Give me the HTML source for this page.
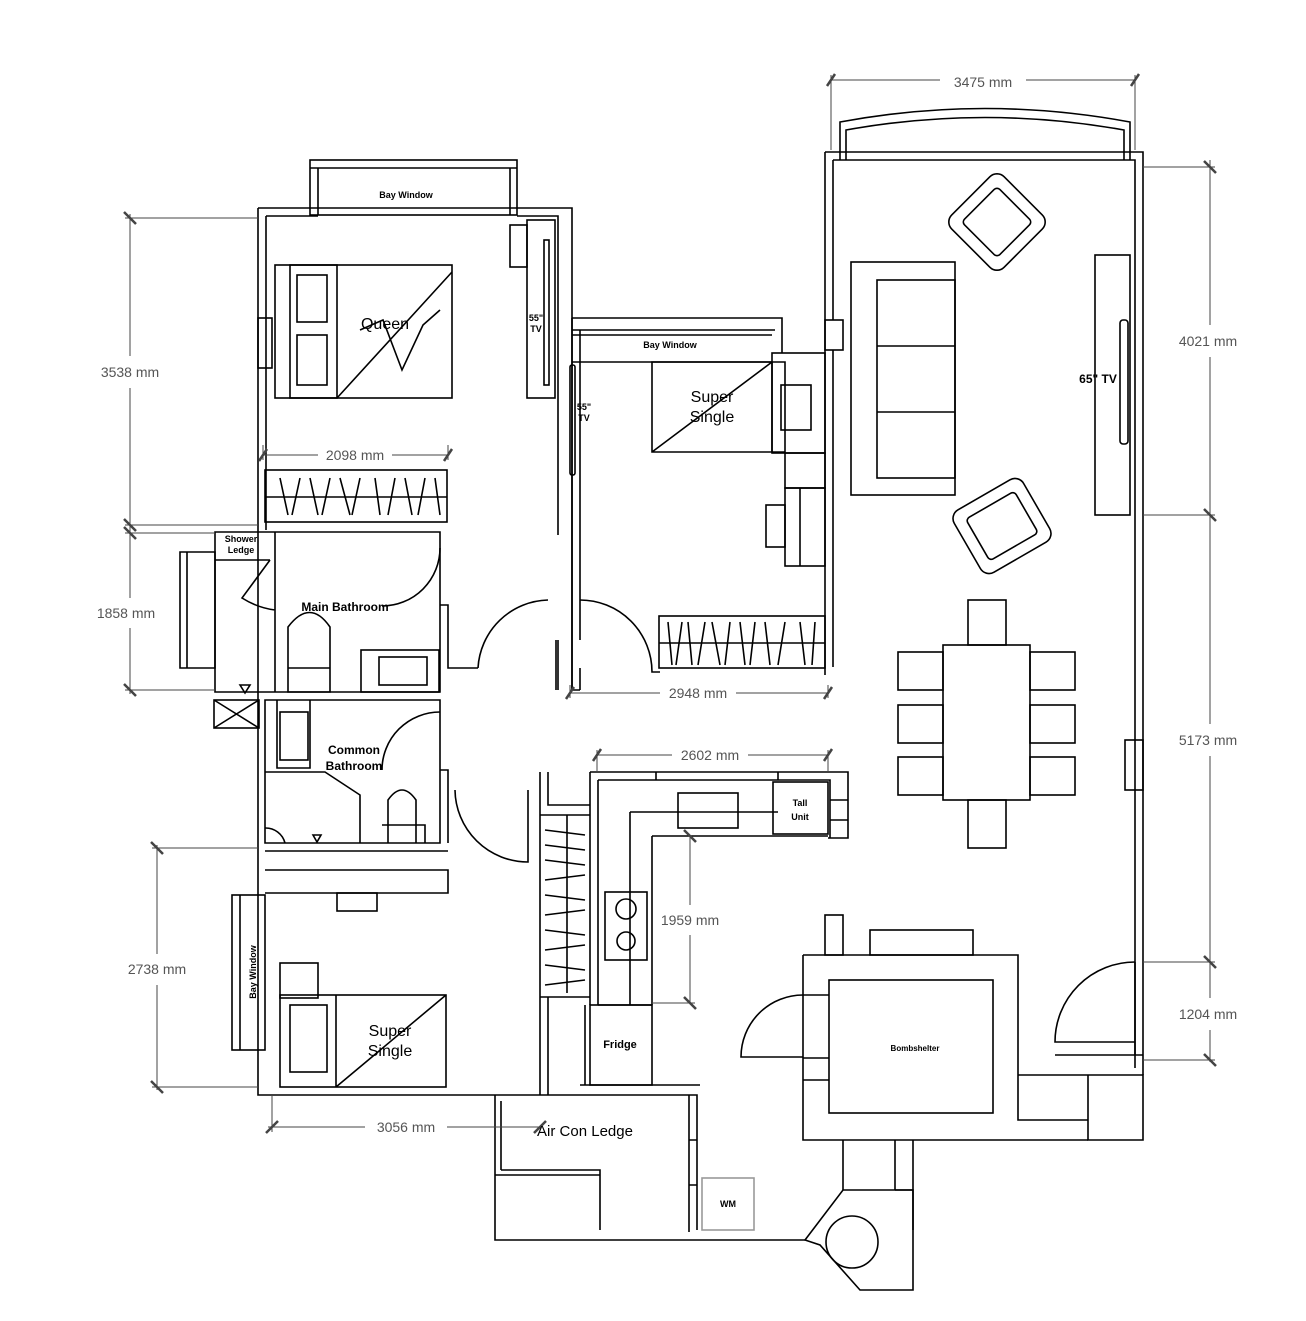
<!DOCTYPE html>
<html><head><meta charset="utf-8"><style>
html,body{margin:0;padding:0;background:#fff;width:1306px;height:1321px;overflow:hidden}
svg{display:block}
text{font-family:"Liberation Sans",sans-serif}
.d{font-size:14px;fill:#555}
.b{font-weight:bold;font-size:12px}
</style></head><body>
<svg width="1306" height="1321" viewBox="0 0 1306 1321" xmlns="http://www.w3.org/2000/svg">
<g fill="none" stroke="#000" stroke-width="1.6">
<!-- Living outer -->
<path d="M825 152 H1143 V1075 M833 160 H1135 V1068"/>
<path d="M825 152 V675 M833 160 V320 M833 350 V667"/>
<rect x="825" y="320" width="18" height="30"/>
<path d="M840 160 V122 Q985 95 1130 122 V160 M846 160 V130 Q985 105 1124 130 V160"/>
<!-- sofa & armchairs -->
<rect x="851" y="262" width="104" height="233"/>
<rect x="877" y="280" width="78" height="198"/>
<path d="M877 346 H955 M877 412 H955"/>
<rect x="960" y="185" width="74" height="74" rx="10" transform="rotate(45 997 222)"/>
<rect x="972" y="197" width="50" height="50" rx="4" transform="rotate(45 997 222)"/>
<rect x="962" y="490" width="80" height="72" rx="10" transform="rotate(-30 1002 526)"/>
<rect x="974" y="502" width="56" height="48" rx="4" transform="rotate(-30 1002 526)"/>
<!-- TV -->
<rect x="1095" y="255" width="35" height="260"/>
<rect x="1120" y="320" width="8" height="124" rx="3"/>
<!-- dining -->
<rect x="943" y="645" width="87" height="155"/>
<rect x="968" y="600" width="38" height="45"/><rect x="968" y="800" width="38" height="48"/>
<rect x="898" y="652" width="45" height="38"/><rect x="898" y="705" width="45" height="38"/><rect x="898" y="757" width="45" height="38"/>
<rect x="1030" y="652" width="45" height="38"/><rect x="1030" y="705" width="45" height="38"/><rect x="1030" y="757" width="45" height="38"/>
<!-- right lower wall -->
<rect x="1125" y="740" width="18" height="50"/>
<path d="M1135 962 V1055 M1055 1055 H1143"/>
<path d="M1135 962 A80 80 0 0 0 1055 1042 H1135"/>
<!-- Bombshelter -->
<path d="M803 955 H1018 V1075 H1143 V1140 H1088 V1075 M1018 1075 V1120 H1088"/>
<path d="M803 955 V1140 H1088"/>
<rect x="829" y="980" width="164" height="133"/>
<rect x="870" y="930" width="103" height="25"/>
<rect x="825" y="915" width="18" height="40"/>
<path d="M803 995 H829 M803 1058 H829 M803 1080 H829"/>
<path d="M803 995 A62 62 0 0 0 741 1057 H803"/>
<path d="M843 1140 V1190 M895 1140 V1190 M913 1140 V1230 M895 1190 H913"/>
<!-- bottom area -->
<path d="M495 1095 H697 V1230 M495 1095 V1240 H805 M501 1101 V1170 M501 1170 H600 V1230 M495 1175 H600"/>
<path d="M689 1095 V1232 M689 1140 H697 M689 1185 H697"/>
<rect x="702" y="1178" width="52" height="52" stroke="#999"/>
<path d="M805 1240 L843 1190 H913 V1290 H860 L820 1245 Z"/>
<circle cx="852" cy="1242" r="26"/>
<!-- kitchen -->
<path d="M590 772 H848 V838 H828 M598 780 H830 V838 M590 772 V1005 M598 780 V1005"/>
<path d="M656 772 V780 M778 772 V780 M830 800 H848 M830 820 H848"/>
<path d="M630 812 H778 M652 836 H828 M630 812 V1005 M652 836 V1005 M598 1005 H652"/>
<rect x="678" y="793" width="60" height="35"/>
<rect x="773" y="782" width="55" height="52"/>
<rect x="605" y="892" width="42" height="68"/>
<circle cx="626" cy="909" r="10"/><circle cx="626" cy="941" r="9"/>
<rect x="590" y="1005" width="62" height="80"/>
<path d="M585 1005 V1085 M580 1085 H700"/>
<!-- wardrobe kitchen-side -->
<path d="M540 772 V1095 M548 772 V805 H590 M540 815 H590 M540 997 H590 M548 997 V1095"/>
<path d="M545 830 L585 835 M545 845 L585 850 M545 860 L585 865 M545 880 L585 875 M545 895 L585 900 M545 915 L585 910 M545 930 L585 935 M545 950 L585 945 M545 965 L585 970 M545 985 L585 980 M567 815 V993"/>
<path d="M528 790 V862 A73 73 0 0 1 455 790"/>
<!-- left block -->
<path d="M258 208 H572 V690 M266 216 H318 M517 216 H558 V535 M558 640 V690"/>
<path d="M258 208 V1095 H495 M266 216 V530"/>
<rect x="310" y="160" width="207" height="55"/>
<path d="M310 168 H517 M318 168 V215 M510 168 V215"/>
<rect x="258" y="318" width="14" height="50"/>
<!-- master -->
<rect x="275" y="265" width="177" height="133"/>
<rect x="290" y="265" width="47" height="133"/>
<rect x="297" y="275" width="30" height="47"/><rect x="297" y="335" width="30" height="50"/>
<path d="M337 398 L452 272 M360 330 L383 320 L402 370 L423 325 L440 310"/>
<rect x="527" y="220" width="28" height="178"/>
<rect x="544" y="240" width="5" height="145"/>
<rect x="510" y="225" width="17" height="42"/>
<rect x="265" y="470" width="182" height="52"/>
<path d="M265 497 H447"/>
<path d="M280 478 L288 515 M300 478 L292 515 M310 478 L318 515 M330 478 L322 515 M340 478 L350 515 M360 478 L352 515 M375 478 L380 515 M395 478 L388 515 M405 478 L412 515 M425 478 L418 515 M435 478 L440 515"/>
<!-- bathrooms -->
<path d="M215 532 H440 V692 H215 Z M275 532 V692 M215 560 H270 M270 560 L242 598 Q258 608 275 610"/>
<path d="M180 552 H215 V668 H180 Z M187 552 V668"/>
<path d="M440 548 A58 58 0 0 1 382 606"/>
<path d="M440 605 H448 V668 H478"/>
<path d="M288 668 V627 Q310 598 330 627 V668 M288 668 H330 V692 H288 Z"/>
<rect x="361" y="650" width="78" height="42"/><rect x="379" y="657" width="48" height="28"/>
<path d="M240 685 L245 693 L250 685 Z"/>
<rect x="214" y="700" width="45" height="28"/><path d="M214 700 L259 728 M259 700 L214 728"/>
<path d="M265 700 H440 V843 H265 Z M277 700 V768 H310 V700 M265 772 H325 L360 795 V843"/>
<rect x="280" y="712" width="28" height="48"/>
<path d="M440 712 A58 58 0 0 0 382 770 M440 770 H448 V843"/>
<path d="M388 843 V800 Q402 780 416 800 V843 M382 825 H425 V843"/>
<path d="M265 828 A20 20 0 0 1 285 843"/>
<path d="M313 835 L317 842 L321 835 Z"/>
<path d="M265 851 H448 M265 870 H448 V893 H265"/>
<rect x="337" y="893" width="40" height="18"/>
<!-- bedroom 3 -->
<rect x="232" y="895" width="33" height="155"/><path d="M240 895 V1050"/>
<rect x="280" y="963" width="38" height="35"/>
<rect x="280" y="995" width="166" height="92"/>
<rect x="290" y="1005" width="37" height="67"/>
<path d="M336 995 V1087 M336 1087 L446 995"/>
<!-- bedroom 2 -->
<path d="M572 318 H782 V353 M572 330 H775 M572 362 H772 M572 335 H772"/>
<path d="M572 318 V690 M580 330 V640 M556 640 V690 M572 690 H580 M580 690 V668"/>
<rect x="570" y="365" width="5" height="110" rx="2"/>
<path d="M580 600 A72 72 0 0 1 652 672 H660 M548 600 A72 72 0 0 0 478 668"/>
<path d="M652 362 H785 V452 H652 Z M652 452 L772 362 M772 362 V452"/>
<rect x="772" y="353" width="53" height="100"/>
<rect x="781" y="385" width="30" height="45"/>
<rect x="785" y="453" width="40" height="35"/>
<rect x="785" y="488" width="40" height="78"/><path d="M800 488 V566"/>
<rect x="766" y="505" width="19" height="42"/>
<rect x="659" y="616" width="166" height="52"/>
<path d="M659 643 H825"/>
<path d="M668 622 L672 665 M682 622 L676 665 M688 622 L692 665 M705 622 L698 665 M712 622 L720 665 M730 622 L725 665 M740 622 L745 665 M755 622 L750 665 M765 622 L770 665 M785 622 L778 665 M800 622 L805 665 M815 622 L812 665"/>
</g>
<!-- dimensions -->
<g stroke="#444" stroke-width="1" fill="none">
<path d="M831 80 H940 M1026 80 H1135 M831 75 V150 M1135 75 V150"/>
<path d="M1143 167 H1215 M1143 515 H1215 M1143 962 H1215 M1143 1060 H1215"/>
<path d="M1210 160 V325 M1210 357 V724 M1210 756 V998 M1210 1030 V1062"/>
<path d="M125 218 H258 M125 525 H258 M125 533 H215 M125 690 H215 M130 214 V356 M130 388 V598 M130 628 V694"/>
<path d="M152 848 H258 M152 1087 H258 M157 845 V954 M157 985 V1090"/>
<path d="M268 1127 H365 M447 1127 H540 M272 1095 V1132"/>
<path d="M263 455 H318 M392 455 H448 M263 445 V460 M448 445 V460"/>
<path d="M570 693 H660 M736 693 H828 M570 685 V698 M828 685 V698"/>
<path d="M597 755 H672 M748 755 H828 M597 750 V772 M828 750 V772"/>
<path d="M690 836 V905 M690 935 V1003 M652 1003 H695"/>
</g>
<g stroke="#444" stroke-width="2.5">
<path d="M827 86 L835 74 M1131 86 L1139 74 M1204 161 L1216 173 M1204 509 L1216 521 M1204 956 L1216 968 M1204 1054 L1216 1066 M124 212 L136 224 M124 519 L136 531 M124 527 L136 539 M124 684 L136 696 M151 842 L163 854 M151 1081 L163 1093 M266 1133 L278 1121 M534 1133 L546 1121 M259 461 L267 449 M444 461 L452 449 M566 699 L574 687 M824 699 L832 687 M593 761 L601 749 M824 761 L832 749 M684 830 L696 842 M684 997 L696 1009"/>
</g>
<text class="d" x="983" y="87" text-anchor="middle">3475 mm</text>
<text class="d" x="1208" y="346" text-anchor="middle">4021 mm</text>
<text class="d" x="1208" y="745" text-anchor="middle">5173 mm</text>
<text class="d" x="1208" y="1019" text-anchor="middle">1204 mm</text>
<text class="d" x="130" y="377" text-anchor="middle">3538 mm</text>
<text class="d" x="126" y="618" text-anchor="middle">1858 mm</text>
<text class="d" x="157" y="974" text-anchor="middle">2738 mm</text>
<text class="d" x="406" y="1132" text-anchor="middle">3056 mm</text>
<text class="d" x="355" y="460" text-anchor="middle">2098 mm</text>
<text class="d" x="698" y="698" text-anchor="middle">2948 mm</text>
<text class="d" x="710" y="760" text-anchor="middle">2602 mm</text>
<text class="d" x="690" y="925" text-anchor="middle">1959 mm</text>
<g font-size="9" font-weight="bold" text-anchor="middle">
<text x="406" y="198">Bay Window</text>
<text x="670" y="348">Bay Window</text>
<text x="256" y="972" transform="rotate(-90 256 972)">Bay Window</text>
<text x="241" y="542">Shower</text><text x="241" y="553">Ledge</text>
<text x="536" y="321">55"</text><text x="536" y="332">TV</text>
<text x="584" y="410">55"</text><text x="584" y="421">TV</text>
<text x="800" y="806">Tall</text><text x="800" y="820">Unit</text>
<text x="915" y="1051" font-size="8">Bombshelter</text>
<text x="728" y="1207">WM</text>
<text x="620" y="1048" font-size="11">Fridge</text>
</g>
<g text-anchor="middle" font-weight="bold" font-size="12">
<text x="345" y="611">Main Bathroom</text>
<text x="354" y="754">Common</text><text x="354" y="770">Bathroom</text>
<text x="1098" y="383">65" TV</text>
</g>
<g text-anchor="middle" font-size="16">
<text x="385" y="329">Queen</text>
<text x="712" y="402">Super</text><text x="712" y="422">Single</text>
<text x="390" y="1036">Super</text><text x="390" y="1056">Single</text>
<text x="585" y="1136" font-size="15">Air Con Ledge</text>
</g>
</svg>
</body></html>
